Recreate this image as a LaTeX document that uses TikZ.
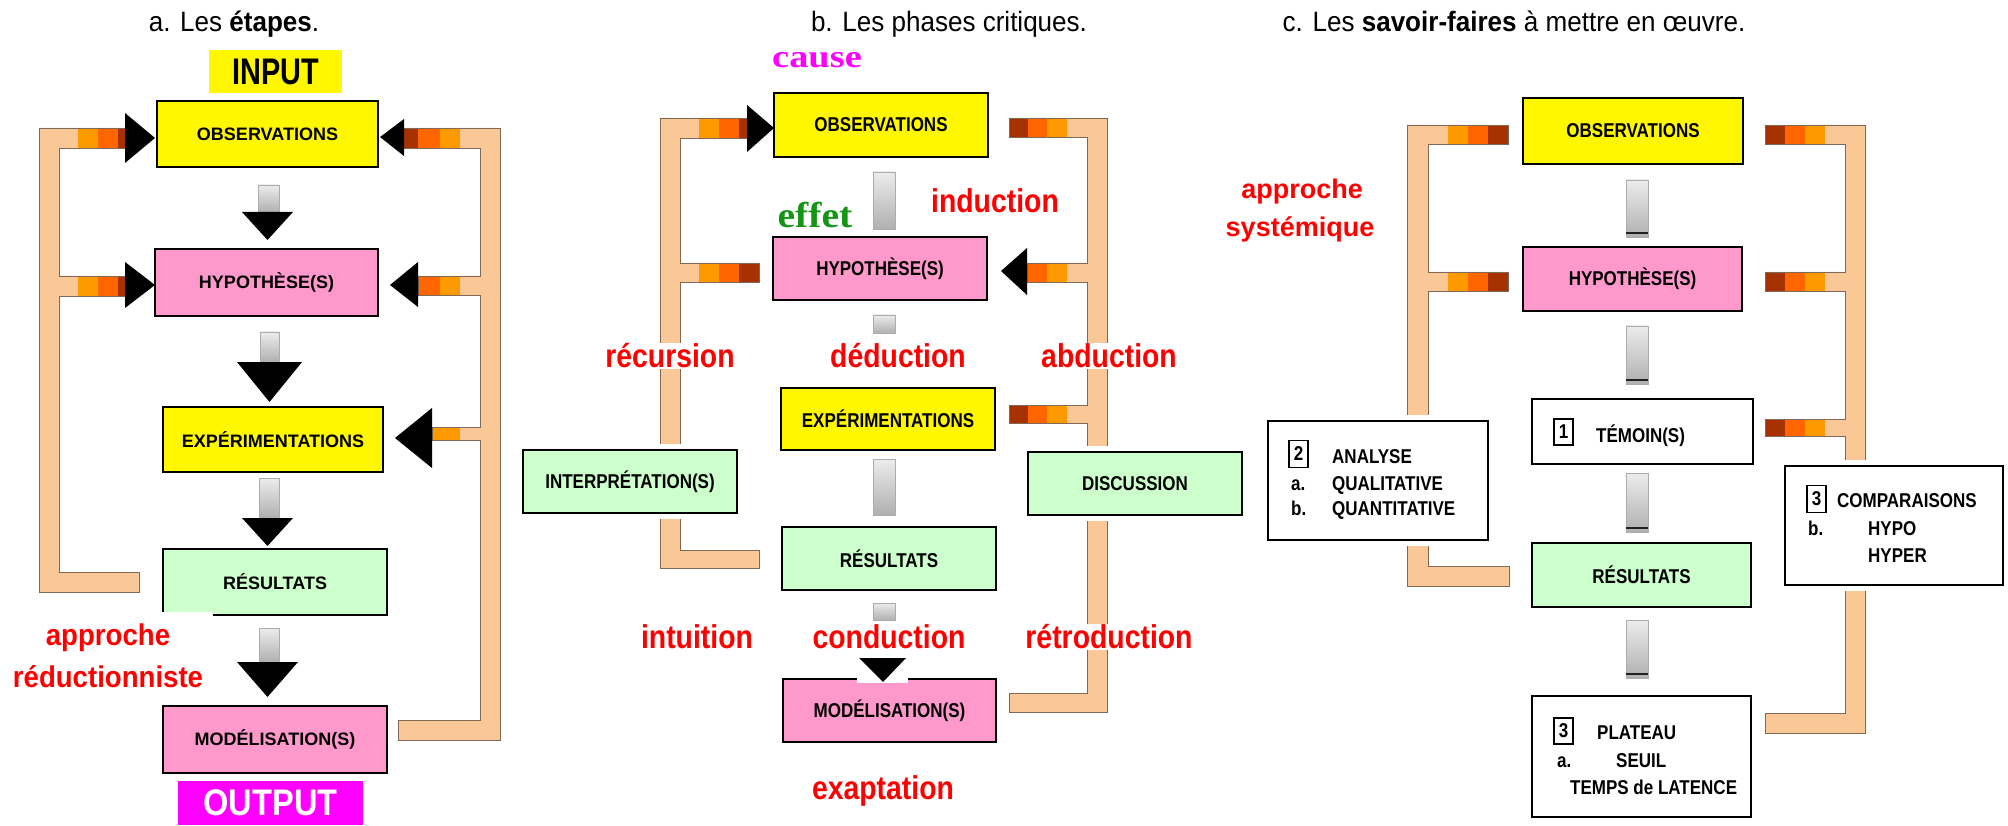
\documentclass[tikz,border=0pt]{standalone}
\usepackage{fontspec}
\setmainfont{Liberation Sans}
\newfontfamily\serifbf{Liberation Serif}
\usepackage{graphicx}
\usetikzlibrary{calc}
\definecolor{boxyellow}{RGB}{255,247,0}
\definecolor{boxpink}{RGB}{255,153,204}
\definecolor{boxgreen}{RGB}{204,255,204}
\definecolor{peach}{RGB}{250,200,150}
\definecolor{orA}{RGB}{255,153,0}
\definecolor{orB}{RGB}{255,102,0}
\definecolor{orC}{RGB}{165,50,0}
\definecolor{tubeline}{RGB}{125,105,85}
\definecolor{redlab}{RGB}{255,0,0}
\definecolor{maglab}{RGB}{255,0,255}
\definecolor{greenlab}{RGB}{20,150,20}
\newcommand\txA[1]{{\fontsize{18}{20}\selectfont\bfseries #1}}
\newcommand\txB[1]{\scalebox{0.85}[1]{\fontsize{20}{22}\selectfont\bfseries #1}}
\newcommand\rdA[1]{\scalebox{0.92}[1]{\fontsize{30}{34}\selectfont\bfseries #1}}
\newcommand\rdB[1]{\scalebox{0.86}[1]{\fontsize{33}{36}\selectfont\bfseries #1}}
\newcommand\rdC[1]{{\fontsize{27}{30}\selectfont\bfseries #1}}
\newcommand\ttl[1]{\scalebox{0.93}[1]{\fontsize{28}{32}\selectfont #1}}
\begin{document}
\begin{tikzpicture}[x=1pt,y=-1pt,
  box/.style={draw=black, line width=2.4pt, inner sep=0pt, align=center},
  halo/.style={preaction={draw=white, line width=12pt}},
  numbox/.style={draw=black, line width=1.3pt, inner sep=0pt, minimum width=19pt, minimum height=27pt},
  tubefill/.style={fill=peach},
  tubeedge/.style={draw=tubeline, line width=0.9pt, line join=miter},
  shaft/.style={top color=gray!15, bottom color=gray!62, draw=gray!65, line width=0.7pt},
  redl/.style={text=redlab, fill=white, inner sep=1pt},
  txt/.style={anchor=base west, inner sep=0pt}]
\useasboundingbox (0,0) rectangle (2008,826);
\fill[white] (0,0) rectangle (2008,826);

% ---------- tubes ----------
\def\tubeAL{(125,128) -- (39,128) -- (39,592) -- (139,592) -- (139,572) -- (59,572) -- (59,296) -- (125,296) -- (125,276) -- (59,276) -- (59,148) -- (125,148) -- cycle}
\def\tubeAR{(403,128) -- (500,128) -- (500,740) -- (398,740) -- (398,720) -- (480,720) -- (480,440) -- (432,440) -- (432,427) -- (480,427) -- (480,295) -- (418,295) -- (418,276) -- (480,276) -- (480,148) -- (403,148) -- cycle}
\def\tubeBL{(747,118) -- (660,118) -- (660,568) -- (759,568) -- (759,550) -- (680,550) -- (680,282) -- (759,282) -- (759,263) -- (680,263) -- (680,138) -- (747,138) -- cycle}
\def\tubeBR{(1009,118) -- (1107,118) -- (1107,712) -- (1009,712) -- (1009,693) -- (1087,693) -- (1087,423) -- (1009,423) -- (1009,405) -- (1087,405) -- (1087,282) -- (1027,282) -- (1027,263) -- (1087,263) -- (1087,137) -- (1009,137) -- cycle}
\def\tubeCL{(1508,125) -- (1407,125) -- (1407,586) -- (1509,586) -- (1509,566) -- (1428,566) -- (1428,291) -- (1508,291) -- (1508,272) -- (1428,272) -- (1428,144) -- (1508,144) -- cycle}
\def\tubeCR{(1765,125) -- (1865,125) -- (1865,733) -- (1765,733) -- (1765,713) -- (1845,713) -- (1845,436) -- (1765,436) -- (1765,419) -- (1845,419) -- (1845,291) -- (1765,291) -- (1765,272) -- (1845,272) -- (1845,144) -- (1765,144) -- cycle}
\fill[tubefill] \tubeAL; \fill[tubefill] \tubeAR;
\fill[tubefill] \tubeBL; \fill[tubefill] \tubeBR;
\fill[tubefill] \tubeCL; \fill[tubefill] \tubeCR;
% colour bands, panel a
\foreach \ya/\yb in {128/148, 276/296}{
  \fill[orA] (78,\ya) rectangle (98,\yb);
  \fill[orB] (98,\ya) rectangle (118,\yb);
  \fill[orC] (118,\ya) rectangle (125,\yb);}
\fill[orC] (403,128) rectangle (418,148);
\fill[orB] (418,128) rectangle (440,148);
\fill[orA] (440,128) rectangle (460,148);
\fill[orB] (418,276) rectangle (440,295);
\fill[orA] (440,276) rectangle (460,295);
\fill[orA] (432,427) rectangle (460,440);
% panel b
\fill[orA] (699,118) rectangle (719,138);
\fill[orB] (719,118) rectangle (739,138);
\fill[orC] (739,118) rectangle (747,138);
\fill[orA] (699,263) rectangle (719,282);
\fill[orB] (719,263) rectangle (739,282);
\fill[orC] (739,263) rectangle (759,282);
\foreach \ya/\yb in {118/137, 405/423}{
  \fill[orC] (1009,\ya) rectangle (1028,\yb);
  \fill[orB] (1028,\ya) rectangle (1047,\yb);
  \fill[orA] (1047,\ya) rectangle (1067,\yb);}
\fill[orB] (1027,263) rectangle (1047,282);
\fill[orA] (1047,263) rectangle (1067,282);
% panel c
\foreach \ya/\yb in {125/144, 272/291}{
  \fill[orA] (1448,\ya) rectangle (1468,\yb);
  \fill[orB] (1468,\ya) rectangle (1488,\yb);
  \fill[orC] (1488,\ya) rectangle (1508,\yb);}
\foreach \ya/\yb in {125/144, 272/291, 419/436}{
  \fill[orC] (1765,\ya) rectangle (1785,\yb);
  \fill[orB] (1785,\ya) rectangle (1805,\yb);
  \fill[orA] (1805,\ya) rectangle (1825,\yb);}
\draw[tubeedge] \tubeAL; \draw[tubeedge] \tubeAR;
\draw[tubeedge] \tubeBL; \draw[tubeedge] \tubeBR;
\draw[tubeedge] \tubeCL; \draw[tubeedge] \tubeCR;

% ---------- titles ----------
\node[anchor=base] (titleA) at (234,32) {\ttl{a. Les \textbf{étapes}.}};
\node[anchor=base] (titleB) at (949,32) {\ttl{b. Les phases critiques.}};
\node[anchor=base] (titleC) at (1514,32) {\ttl{c. Les \textbf{savoir-faires} à mettre en œuvre.}};

% ---------- panel a ----------
\node[fill=boxyellow, inner sep=0pt, minimum width=133pt, minimum height=43pt] (inputA) at (275.5,71.5) {\scalebox{0.78}[1]{\fontsize{37}{40}\selectfont\bfseries INPUT}};
\node[fill=maglab, inner sep=0pt, minimum width=185pt, minimum height=44pt, text=white] (outputA) at (270.5,803) {\scalebox{0.88}[1]{\fontsize{37}{40}\selectfont\bfseries OUTPUT}};
\node[box, fill=boxyellow, minimum width=221pt, minimum height=66pt] (obsA) at (267.5,134) {\txA{OBSERVATIONS}};
\node[box, fill=boxpink, minimum width=223pt, minimum height=67pt] (hypA) at (266.5,282.5) {\txA{HYPOTHÈSE(S)}};
\node[box, fill=boxyellow, minimum width=220pt, minimum height=65pt] (expA) at (273,439.5) {\txA{EXPÉRIMENTATIONS}};
\node[box, fill=boxgreen, minimum width=224pt, minimum height=66pt] (resA) at (275,582) {\txA{RÉSULTATS}};
\node[box, fill=boxpink, minimum width=224pt, minimum height=67pt] (modA) at (275,739.5) {\txA{MODÉLISATION(S)}};
\fill[white] (158,612) rectangle (213,620);
% side arrows
\fill[black] (125,113) -- (155,138) -- (125,163) -- cycle;
\fill[black] (125,262) -- (155,285) -- (125,308) -- cycle;
\fill[black] (404,119) -- (380,137) -- (404,156) -- cycle;
\fill[black] (418,262) -- (390,285) -- (418,307) -- cycle;
\fill[black] (432,408) -- (395,438) -- (432,468) -- cycle;
% down arrows
\shade[shaft] (258,185) rectangle (279,212);
\fill[black] (242,212) -- (293,212) -- (267.5,240) -- cycle;
\shade[shaft] (260,332) rectangle (279,362);
\fill[black] (237,362) -- (302,362) -- (269.5,402) -- cycle;
\shade[shaft] (259,478) rectangle (279,518);
\fill[black] (242,518) -- (293,518) -- (267.5,546) -- cycle;
\shade[shaft] (259,628) rectangle (279,662);
\fill[black] (237,662) -- (298,662) -- (267.5,697) -- cycle;
\node[redl, anchor=base] (apprA) at (108,645) {\rdA{approche}};
\node[redl, anchor=base] (reducA) at (108,687) {\rdA{réductionniste}};

% ---------- panel b ----------
\node[box, fill=boxyellow, minimum width=214pt, minimum height=64pt] (obsB) at (881,125) {\txB{OBSERVATIONS}};
\node[box, fill=boxpink, minimum width=214pt, minimum height=63pt] (hypB) at (880,268.5) {\txB{HYPOTHÈSE(S)}};
\node[box, fill=boxyellow, minimum width=214pt, minimum height=62pt] (expB) at (888,419) {\txB{EXPÉRIMENTATIONS}};
\node[box, fill=boxgreen, minimum width=214pt, minimum height=63pt] (resB) at (889,558.5) {\txB{RÉSULTATS}};
\node[box, fill=boxpink, minimum width=213pt, minimum height=63pt] (modB) at (889.5,710.5) {\txB{MODÉLISATION(S)}};
\node[box, halo, fill=boxgreen, minimum width=214pt, minimum height=63pt] (intB) at (630,481.5) {\txB{INTERPRÉTATION(S)}};
\node[box, halo, fill=boxgreen, minimum width=214pt, minimum height=63pt] (disB) at (1135,483.5) {\txB{DISCUSSION}};
\fill[black] (747,105) -- (774,128) -- (747,152) -- cycle;
\fill[black] (1027,248) -- (1001,271) -- (1027,295) -- cycle;
\shade[shaft] (873,172) rectangle (895,229);
\shade[shaft] (873,315) rectangle (895,333);
\shade[shaft] (873,459) rectangle (895,515);
\shade[shaft] (873,603) rectangle (895,620);
\fill[white] (857,656) rectangle (908,683);
\fill[black] (859,658) -- (906,658) -- (883,682) -- cycle;
\node[text=maglab, inner sep=0pt] (causeB) at (817,60) {\scalebox{1.2}[1]{\serifbf\fontsize{32}{34}\selectfont\bfseries cause}};
\node[text=greenlab, inner sep=0pt] (effetB) at (815,215) {\scalebox{1.1}[1]{\serifbf\fontsize{36}{38}\selectfont\bfseries effet}};
\node[redl] (indB) at (995,201) {\rdB{induction}};
\node[redl] (recB) at (670,356) {\rdB{récursion}};
\node[redl] (dedB) at (898,356) {\rdB{déduction}};
\node[redl] (abdB) at (1109,356) {\rdB{abduction}};
\node[redl] (intuB) at (697,637) {\rdB{intuition}};
\node[redl] (conB) at (889,637) {\rdB{conduction}};
\node[redl] (retB) at (1109,637) {\rdB{rétroduction}};
\node[redl] (exaB) at (883,791) {\rdB{exaptation}};

% ---------- panel c ----------
\node[box, fill=boxyellow, minimum width=220pt, minimum height=66pt] (obsC) at (1633,131) {\txB{OBSERVATIONS}};
\node[box, fill=boxpink, minimum width=219pt, minimum height=64pt] (hypC) at (1632.5,279) {\txB{HYPOTHÈSE(S)}};
\node[box, fill=white, minimum width=221pt, minimum height=65pt] (temC) at (1642.5,431.5) {};
\node[box, fill=boxgreen, minimum width=219pt, minimum height=64pt] (resC) at (1641.5,575) {\txB{RÉSULTATS}};
\node[box, fill=white, minimum width=219pt, minimum height=121pt] (plaC) at (1641.5,756.5) {};
\node[box, halo, fill=white, minimum width=220pt, minimum height=119pt] (anaC) at (1378,480.5) {};
\node[box, halo, fill=white, minimum width=218pt, minimum height=119pt] (comC) at (1894,525.5) {};
\foreach \ya/\yb in {180/237, 326/384, 473/532, 620/678}{
  \shade[shaft] (1626,\ya) rectangle (1648,\yb);
  \draw[gray!25!black, line width=1.5pt] (1626,\yb-4) -- (1648,\yb-4);}
\node[redl, anchor=base] (apprC) at (1302,199) {\rdC{approche}};
\node[redl, anchor=base] (systC) at (1300,237) {\rdC{systémique}};
% ANALYSE
\node[numbox] (n2) at (1298.5,454) {\txB{2}};
\node[txt] (anaT) at (1332,463) {\txB{ANALYSE}};
\node[txt] (anaa) at (1291,490) {\txB{a.}};
\node[txt] (anaq) at (1332,490) {\txB{QUALITATIVE}};
\node[txt] (anab) at (1291,515) {\txB{b.}};
\node[txt] (anaqq) at (1332,515) {\txB{QUANTITATIVE}};
% TEMOIN
\node[numbox, minimum height=26pt] (n1) at (1563.5,432) {\txB{1}};
\node[txt] (temT) at (1596,442) {\txB{TÉMOIN(S)}};
% COMPARAISONS
\node[numbox] (n3a) at (1816.5,499) {\txB{3}};
\node[txt] (comT) at (1837,507) {\txB{COMPARAISONS}};
\node[txt] (comb) at (1808,535) {\txB{b.}};
\node[txt] (como) at (1868,535) {\txB{HYPO}};
\node[txt] (come) at (1868,562) {\txB{HYPER}};
% PLATEAU
\node[numbox, minimum height=26pt] (n3b) at (1563.5,731) {\txB{3}};
\node[txt] (plaT) at (1597,739) {\txB{PLATEAU}};
\node[txt] (plaa) at (1557,767) {\txB{a.}};
\node[txt] (plas) at (1616,767) {\txB{SEUIL}};
\node[txt] (plat) at (1570,794) {\txB{TEMPS de LATENCE}};
\end{tikzpicture}
\end{document}
